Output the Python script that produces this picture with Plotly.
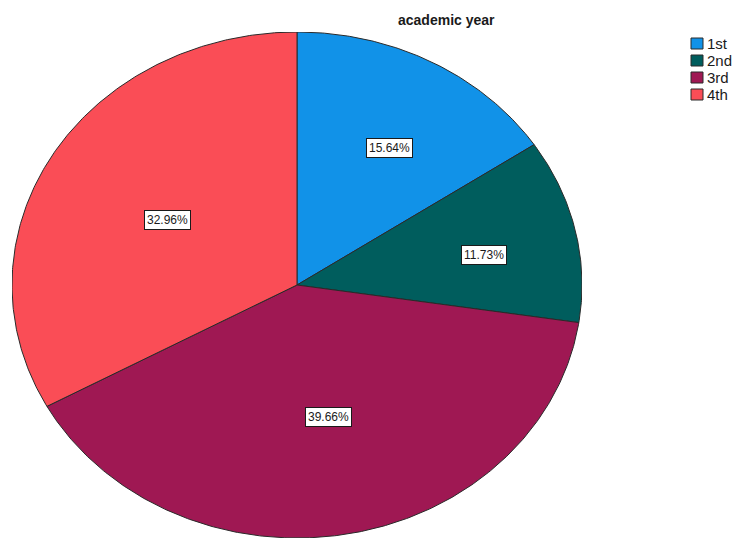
import numpy as np
import plotly.graph_objects as go

# Share of respondents by academic year (percent)
categories = ["1st", "2nd", "3rd", "4th"]
percents = [15.64, 11.73, 39.66, 32.96]
colors = ["#1192e8", "#005d5d", "#9f1853", "#fa4d56"]
title_text = "academic year"

W, H = 733, 540
# pixel box of the elliptical pie
PX0, PX1, PY0, PY1 = 12, 582, 32, 538


def px_x(x):
    return x / W


def px_y(y):
    return 1 - y / H


fig = go.Figure()

total = sum(percents)
start = 0.0
for cat, pct, col in zip(categories, percents, colors):
    frac = pct / total
    a0 = start * 2 * np.pi
    a1 = (start + frac) * 2 * np.pi
    n = max(int(frac * 720), 8)
    th = np.linspace(a0, a1, n)
    # clockwise from 12 o'clock on a unit circle; axes stretch it to an ellipse
    xs = np.concatenate([[0.0], np.sin(th), [0.0]])
    ys = np.concatenate([[0.0], np.cos(th), [0.0]])
    fig.add_trace(go.Scatter(
        x=xs, y=ys, mode="lines", fill="toself",
        fillcolor=col, line=dict(color="#2a2a2a", width=1),
        name=cat, hoverinfo="skip", showlegend=False,
    ))
    # label near the sector centroid
    half = (a1 - a0) / 2
    mid = a0 + half
    r = 2 * np.sin(half) / (3 * half)
    fig.add_annotation(
        x=r * np.sin(mid), y=r * np.cos(mid), xref="x", yref="y",
        xshift=6, yshift=-6,
        text=f"{pct:.2f}%", showarrow=False,
        font=dict(family="Liberation Sans, Arial, sans-serif", size=12, color="#1a1a1a"),
        bgcolor="white", bordercolor="#1a1a1a", borderwidth=1, borderpad=2,
    )
    start += frac

# legend: swatches with labels
for i, (cat, col) in enumerate(zip(categories, colors)):
    top = 38 + i * 17
    fig.add_shape(
        type="rect", xref="paper", yref="paper",
        x0=px_x(691), x1=px_x(703), y0=px_y(top + 11), y1=px_y(top),
        fillcolor=col, line=dict(color="#2a2a2a", width=1),
    )
    fig.add_annotation(
        x=px_x(704.5), y=px_y(top + 5.5), xref="paper", yref="paper",
        text=cat, showarrow=False, xanchor="left", yanchor="middle",
        font=dict(family="Liberation Sans, Arial, sans-serif", size=15, color="#1a1a1a"),
    )

fig.add_annotation(
    x=px_x(447), y=px_y(20), xref="paper", yref="paper",
    text=f"<b>{title_text}</b>", showarrow=False,
    xanchor="center", yanchor="middle",
    font=dict(family="Liberation Sans, Arial, sans-serif", size=14, color="#1a1a1a"),
)

fig.update_layout(
    width=W, height=H,
    margin=dict(l=0, r=0, t=0, b=0),
    paper_bgcolor="white", plot_bgcolor="white",
    showlegend=False,
    xaxis=dict(domain=[px_x(PX0), px_x(PX1)], range=[-1, 1], visible=False, fixedrange=True),
    yaxis=dict(domain=[px_y(PY1), px_y(PY0)], range=[-1, 1], visible=False, fixedrange=True),
)

fig.write_html("out.html")
